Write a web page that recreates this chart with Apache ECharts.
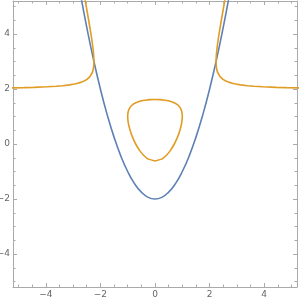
<!DOCTYPE html>
<html>
<head>
<meta charset="utf-8">
<script src="https://cdn.jsdelivr.net/npm/echarts@6/dist/echarts.min.js"></script>
<style>html,body{margin:0;padding:0;background:#fff}#c{width:300px;height:300px}</style>
</head>
<body>
<div id="c"></div>
<script>
// ---- data ----
var majorTicks = [-4, -2, 0, 2, 4];
var minorTicks = [-5, -4.5, -4, -3.5, -3, -2.5, -2, -1.5, -1, -0.5, 0, 0.5, 1, 1.5, 2, 2.5, 3, 3.5, 4, 4.5, 5];

var blueCurve = [
  [-2.75, 5.56], [-2.5, 4.25], [-2.25, 3.06], [-2, 2], [-1.75, 1.06], [-1.5, 0.25],
  [-1.25, -0.44], [-1, -1], [-0.75, -1.44], [-0.5, -1.75], [-0.25, -1.94], [0, -2],
  [0.25, -1.94], [0.5, -1.75], [0.75, -1.44], [1, -1], [1.25, -0.44], [1.5, 0.25],
  [1.75, 1.06], [2, 2], [2.25, 3.06], [2.5, 4.25], [2.75, 5.56]
];

var orangeLeft = [
  [-5.3, 2.04], [-4.8, 2.05], [-4.44, 2.06], [-3.95, 2.08], [-3.62, 2.1], [-3.38, 2.12],
  [-3.13, 2.15], [-2.956, 2.18], [-2.864, 2.2], [-2.693, 2.25], [-2.576, 2.3], [-2.491, 2.35],
  [-2.429, 2.4], [-2.382, 2.45], [-2.345, 2.5], [-2.295, 2.6], [-2.27, 2.68], [-2.247, 2.8],
  [-2.239, 2.9], [-2.236, 3], [-2.247, 3.25], [-2.273, 3.5], [-2.307, 3.75], [-2.345, 4],
  [-2.429, 4.5], [-2.517, 5], [-2.57, 5.3]
];

var orangeRight = [
  [5.3, 2.04], [4.8, 2.05], [4.44, 2.06], [3.95, 2.08], [3.62, 2.1], [3.38, 2.12],
  [3.13, 2.15], [2.956, 2.18], [2.864, 2.2], [2.693, 2.25], [2.576, 2.3], [2.491, 2.35],
  [2.429, 2.4], [2.382, 2.45], [2.345, 2.5], [2.295, 2.6], [2.27, 2.68], [2.247, 2.8],
  [2.239, 2.9], [2.236, 3], [2.247, 3.25], [2.273, 3.5], [2.307, 3.75], [2.345, 4],
  [2.429, 4.5], [2.517, 5], [2.57, 5.3]
];

var orangeLoop = [
  [0, -0.618], [0.24, -0.55], [0.316, -0.5], [0.428, -0.4], [0.553, -0.25], [0.707, 0],
  [0.824, 0.25], [0.913, 0.5], [0.975, 0.75], [1.0, 1.0], [0.975, 1.2], [0.901, 1.35],
  [0.795, 1.45], [0.661, 1.52], [0.494, 1.57], [0.316, 1.6], [0.187, 1.612], [0, 1.618],
  [-0.187, 1.612], [-0.316, 1.6], [-0.494, 1.57], [-0.661, 1.52], [-0.795, 1.45], [-0.901, 1.35],
  [-0.975, 1.2], [-1.0, 1.0], [-0.975, 0.75], [-0.913, 0.5], [-0.824, 0.25], [-0.707, 0],
  [-0.553, -0.25], [-0.428, -0.4], [-0.316, -0.5], [-0.24, -0.55], [0, -0.618]
];

// ---- chart ----
var BLUE = '#5E81B5', ORANGE = '#E19C24', FRAME = '#aaaaaa', LABEL = '#666666';
var LO = -5.2, HI = 5.2;
function fmt(v) { return v < 0 ? '\u2212' + Math.abs(v) : String(v); }

function mkAxis(pos, major, withLabels) {
  return {
    type: 'value', min: LO, max: HI, position: pos, gridIndex: 0,
    splitLine: { show: false },
    axisLine: { show: major, onZero: false, lineStyle: { color: FRAME, width: 1 } },
    axisTick: { show: true, inside: true, length: major ? 4 : 2.5,
      customValues: major ? majorTicks : minorTicks,
      lineStyle: { color: FRAME, width: 1 } },
    axisLabel: { show: withLabels, customValues: majorTicks, formatter: fmt,
      color: LABEL, fontSize: 9, fontFamily: 'DejaVu Sans', margin: 3 }
  };
}

var chart = echarts.init(document.getElementById('c'), null, { renderer: 'canvas' });
chart.setOption({
  animation: false,
  backgroundColor: '#fff',
  grid: { left: 13, right: 3, top: 1, bottom: 13, containLabel: false, outerBoundsMode: 'none' },
  xAxis: [mkAxis('bottom', true, true), mkAxis('bottom', false, false),
          mkAxis('top', true, false), mkAxis('top', false, false)],
  yAxis: [mkAxis('left', true, true), mkAxis('left', false, false),
          mkAxis('right', true, false), mkAxis('right', false, false)],
  series: [
    { type: 'line', data: blueCurve, smooth: true, showSymbol: false, clip: true,
      lineStyle: { color: BLUE, width: 1.6 }, xAxisIndex: 0, yAxisIndex: 0 },
    { type: 'line', data: orangeLeft, smooth: false, showSymbol: false, clip: true,
      lineStyle: { color: ORANGE, width: 1.6 }, xAxisIndex: 0, yAxisIndex: 0 },
    { type: 'line', data: orangeRight, smooth: false, showSymbol: false, clip: true,
      lineStyle: { color: ORANGE, width: 1.6 }, xAxisIndex: 0, yAxisIndex: 0 },
    { type: 'line', data: orangeLoop, smooth: 0.3, showSymbol: false, clip: true,
      lineStyle: { color: ORANGE, width: 1.6 }, xAxisIndex: 0, yAxisIndex: 0 }
  ]
});
</script>
</body>
</html>
